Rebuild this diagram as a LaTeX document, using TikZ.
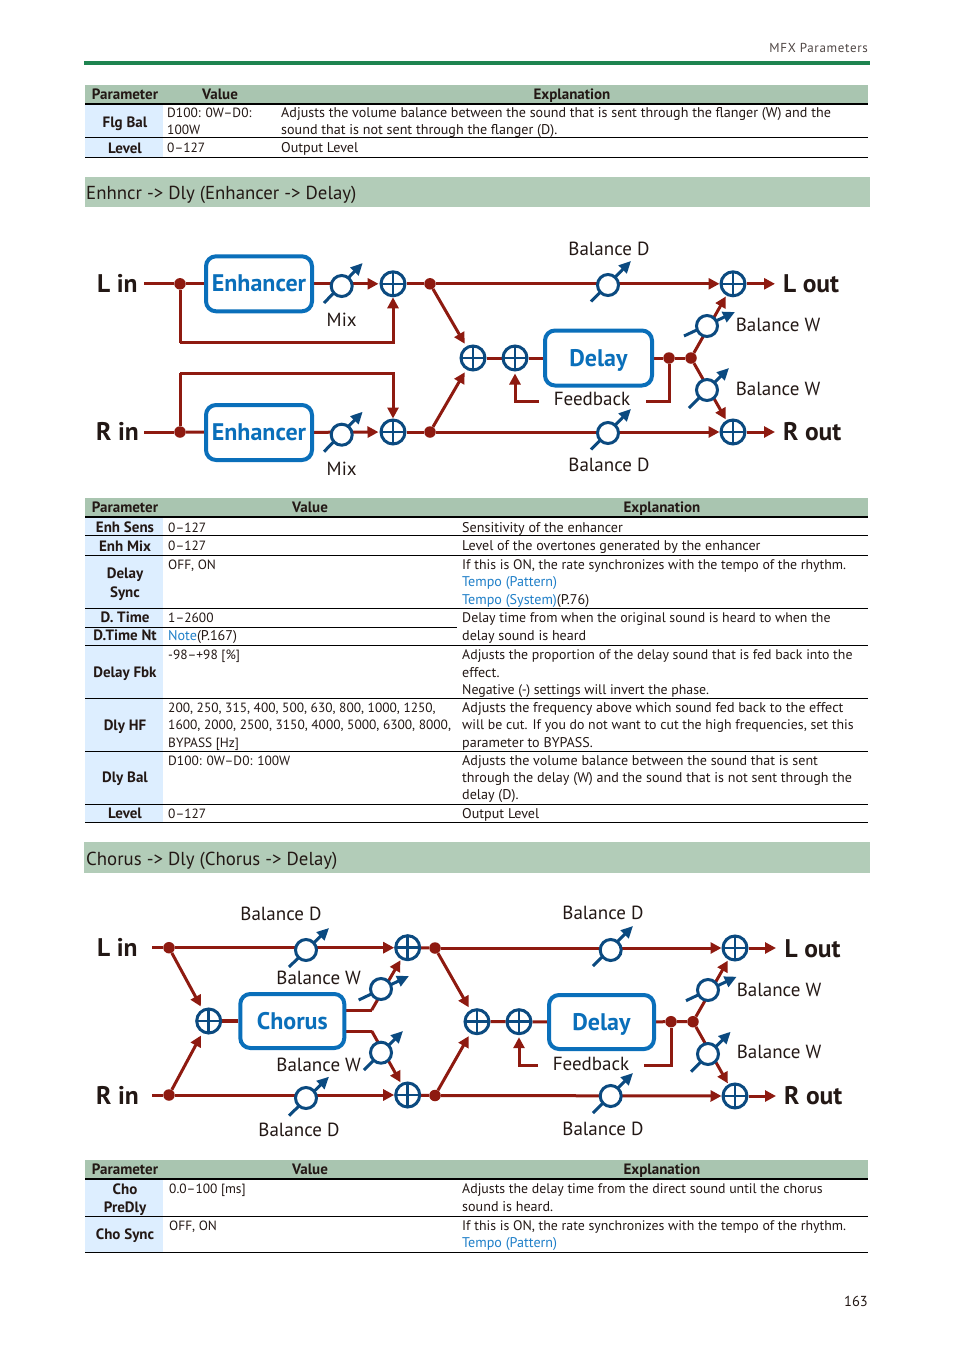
\documentclass[tikz,border=0pt]{standalone}
\usepackage{fontspec}
\setmainfont{PT Sans}
\usetikzlibrary{arrows.meta,backgrounds,calc}
\definecolor{ink}{HTML}{231815}
\definecolor{sigred}{HTML}{8E1A10}
\definecolor{knob}{HTML}{0B4A80}
\definecolor{boxblue}{HTML}{0A6FBA}
\definecolor{linkblue}{HTML}{1F7FC8}
\definecolor{hdr}{HTML}{A9C5B0}
\definecolor{band}{HTML}{B2CCB8}
\definecolor{rule}{HTML}{1E8450}
\definecolor{param}{HTML}{DDEEFF}
\newcounter{tn}
\tikzset{
  body/.style={font=\fontsize{14.1}{15}\selectfont,text=ink,inner sep=0pt},
  tleft/.style={body,anchor=base west},
  nums/.style={font=\fontsize{13.4}{15}\selectfont},
  snug/.style={font=\fontsize{13.85}{15}\selectfont},
  tmid/.style={body,anchor=base,font=\fontsize{15}{15}\selectfont\bfseries},
  tline/.style={line width=.8pt,black},
  thead/.style={line width=1.6pt,black},
  lab/.style={font=\fontsize{19}{20}\selectfont,text=ink,inner sep=0pt,anchor=base},
  io/.style={font=\fontsize{25.5}{28}\selectfont\bfseries,text=ink,inner sep=0pt,anchor=base west},
  fx/.style={draw=boxblue,line width=4pt,rounded corners=10pt,fill=white,text=boxblue,inner sep=0pt,
     font=\fontsize{24}{26}\selectfont\bfseries,text height=17pt,text depth=1pt},
  plusn/.style={circle,draw=knob,line width=3pt,fill=white,minimum size=24pt,inner sep=0pt,
     path picture={\draw[knob,line width=2.6pt]
       (path picture bounding box.north)--(path picture bounding box.south)
       (path picture bounding box.west)--(path picture bounding box.east);}},
  knobn/.style={circle,draw=knob,line width=3pt,fill=white,minimum size=21pt,inner sep=0pt},
  dotn/.style={circle,fill=sigred,minimum size=11.5pt,inner sep=0pt},
  sig/.style={draw=sigred,line width=3pt},
  sigar/.style={sig,-{Triangle[length=11pt,width=11pt]}},
  knobar/.style={draw=knob,line width=3pt,-{Triangle[length=12pt,width=11pt]}},
}
\newcommand{\TL}[4][]{\stepcounter{tn}\node[tleft,#1] (t\thetn) at (#2,#3) {#4};}
\newcommand{\TM}[3]{\stepcounter{tn}\node[tmid] (t\thetn) at (#1,#2+0.7) {#3};}
\newcommand{\LB}[3]{\stepcounter{tn}\node[lab] (t\thetn) at (#1,#2) {#3};}
\newcommand{\IO}[3]{\stepcounter{tn}\node[io] (t\thetn) at (#1,#2) {#3};}
% name, x,y, tail offset, head offset
\newcommand{\KN}[7]{\node[knobn] (#1) at (#2,#3) {};
  \coordinate (#1a) at (#2+#4,#3+#5); \coordinate (#1b) at (#2+#6,#3+#7);}
\newcommand{\FX}[6]{\node[fx,minimum width=#5pt,minimum height=#6pt] (#1) at (#3,#4) {#2};}
\begin{document}
\begin{tikzpicture}[x=1pt,y=-1pt]
\useasboundingbox (0,0) rectangle (954,1350);
\begin{scope}[on background layer]
\fill[white] (0,0) rectangle (954,1350);
\end{scope}
% page furniture
\stepcounter{tn}\node[anchor=base east,inner sep=0pt,text=ink!80,font=\fontsize{13}{14}\selectfont\addfontfeatures{LetterSpace=5}] (t\thetn) at (868,52.5) {MFX Parameters};
\fill[rule] (84,61) rectangle (870,65);
% table 1
\fill[hdr] (85,85) rectangle (868,103);
\fill[param] (85,104) rectangle (163,157);
\draw[thead] (85,103.8) -- (868,103.8);
\draw[tline] (85,137.8) -- (868,137.8);
\draw[tline] (85,157.5) -- (868,157.5);
\TM{125}{99}{Parameter}\TM{220}{99}{Value}\TM{572}{99}{Explanation}
\TM{125}{126.7}{Flg Bal}\TM{125}{152.7}{Level}
\TL[nums]{167}{117}{D100: 0W–D0:}\TL[nums]{167}{134}{100W}\TL[nums]{167}{152.7}{0–127}
\TL{281}{117}{Adjusts the volume balance between the sound that is sent through the flanger (W) and the}
\TL{281}{134}{sound that is not sent through the flanger (D).}
\TL{281}{152.7}{Output Level}
% band 1
\fill[band] (85,177) rectangle (870,207);
\stepcounter{tn}\node[anchor=base west,inner sep=0pt,text=ink,font=\fontsize{18.8}{20}\selectfont] (t\thetn) at (86,199.5) {Enhncr -> Dly (Enhancer -> Delay)};
% table 2
\fill[hdr] (85,498) rectangle (868,516);
\fill[param] (85,517) rectangle (163,822);
\draw[thead] (85,516.7) -- (868,516.7);
\foreach \yy in {535.7,555.3,608,645.3,698.5,751.5,804.5,822.5} \draw[tline] (85,\yy) -- (868,\yy);
\draw[tline] (85,627.3) -- (457,627.3);
\TM{125}{512}{Parameter}\TM{310}{512}{Value}\TM{662}{512}{Explanation}
\TM{125}{531.7}{Enh Sens}\TM{125}{551}{Enh Mix}\TM{125}{578}{Delay}\TM{125}{596.7}{Sync}
\TM{125}{622}{D. Time}\TM{125}{640}{D.Time Nt}\TM{125}{677}{Delay Fbk}\TM{125}{730}{Dly HF}\TM{125}{782}{Dly Bal}\TM{125}{818}{Level}
\TL[nums]{168}{532}{0–127}\TL[nums]{168}{550.5}{0–127}\TL[nums]{168}{569}{OFF, ON}\TL[nums]{168}{622}{1–2600}
\TL{168}{640}{\textcolor{linkblue}{Note}(P.167)}
\TL[nums]{168}{659}{-98–+98 [\%]}
\TL[nums]{168}{712}{200, 250, 315, 400, 500, 630, 800, 1000, 1250,}
\TL[nums]{168}{729}{1600, 2000, 2500, 3150, 4000, 5000, 6300, 8000,}
\TL[nums]{168}{747}{BYPASS [Hz]}
\TL[nums]{168}{765}{D100: 0W–D0: 100W}
\TL[nums]{168}{818}{0–127}
\TL{462}{532}{Sensitivity of the enhancer}
\TL{462}{550.5}{Level of the overtones generated by the enhancer}
\TL[snug]{462}{569}{If this is ON, the rate synchronizes with the tempo of the rhythm.}
\TL{462}{586}{\textcolor{linkblue}{Tempo (Pattern)}}
\TL{462}{604}{\textcolor{linkblue}{Tempo (System)}(P.76)}
\TL[snug]{462}{622}{Delay time from when the original sound is heard to when the}
\TL{462}{640}{delay sound is heard}
\TL[snug]{462}{659}{Adjusts the proportion of the delay sound that is fed back into the}
\TL{462}{677}{effect.}
\TL[snug]{462}{694}{Negative (-) settings will invert the phase.}
\TL{462}{712}{Adjusts the frequency above which sound fed back to the effect}
\TL[snug]{462}{729}{will be cut. If you do not want to cut the high frequencies, set this}
\TL{462}{747}{parameter to BYPASS.}
\TL{462}{765}{Adjusts the volume balance between the sound that is sent}
\TL{462}{782}{through the delay (W) and the sound that is not sent through the}
\TL{462}{799}{delay (D).}
\TL{462}{818}{Output Level}
% band 2
\fill[band] (84,842) rectangle (870,873);
\stepcounter{tn}\node[anchor=base west,inner sep=0pt,text=ink,font=\fontsize{18.8}{20}\selectfont] (t\thetn) at (86,865) {Chorus -> Dly (Chorus -> Delay)};
% table 3
\fill[hdr] (85,1160) rectangle (868,1178);
\fill[param] (85,1180) rectangle (163,1252);
\draw[thead] (85,1179) -- (868,1179);
\draw[tline] (85,1216.5) -- (868,1216.5);
\draw[tline] (85,1252) -- (868,1252);
\TM{125}{1174}{Parameter}\TM{310}{1174}{Value}\TM{662}{1174}{Explanation}
\TM{125}{1194}{Cho}\TM{125}{1212}{PreDly}\TM{125}{1239}{Cho Sync}
\TL[nums]{169}{1193}{0.0–100 [ms]}\TL[nums]{169}{1230}{OFF, ON}
\TL[snug]{462}{1193}{Adjusts the delay time from the direct sound until the chorus}
\TL{462}{1211}{sound is heard.}
\TL[snug]{462}{1230}{If this is ON, the rate synchronizes with the tempo of the rhythm.}
\TL{462}{1247}{\textcolor{linkblue}{Tempo (Pattern)}}
\stepcounter{tn}\node[anchor=base east,inner sep=0pt,text=ink,font=\fontsize{14.5}{15}\selectfont] (t\thetn) at (868,1306) {163};

% ---------- diagram 1 ----------
\IO{97}{292.7}{L in}\IO{96}{440.7}{R in}\IO{783}{292.7}{L out}\IO{783}{440.7}{R out}
\LB{609}{255}{Balance D}\LB{341.7}{326.7}{Mix}\LB{341.7}{475.7}{Mix}
\LB{778}{331.7}{Balance W}\LB{778}{395}{Balance W}\LB{609}{471.7}{Balance D}\LB{592}{405.7}{Feedback}
\coordinate (aLs) at (144,283.8); \coordinate (aRs) at (144,432);
\coordinate (aLe) at (775,283.8); \coordinate (aRe) at (775,432);
\node[dotn] (aD1) at (180,283.8) {}; \node[dotn] (aD2) at (180,432) {};
\node[dotn] (aD3) at (430,283.8) {}; \node[dotn] (aD4) at (430,432) {};
\node[dotn] (aD5) at (669,358) {}; \node[dotn] (aD6) at (691,358) {};
\FX{aE1}{Enhancer}{259}{283.8}{106}{55}
\FX{aE2}{Enhancer}{259}{432.5}{106}{55}
\FX{aDl}{Delay}{598.5}{358}{107}{55}
\node[plusn] (aP1) at (393,283.8) {}; \node[plusn] (aP2) at (393,432) {};
\node[plusn] (aP3) at (473,358) {}; \node[plusn] (aP4) at (515,358) {};
\node[plusn] (aP5) at (733,283.8) {}; \node[plusn] (aP6) at (733,432) {};
\KN{aK1}{341.7}{286}{-17.7}{17}{21}{-23}
\KN{aK2}{341.7}{434.7}{-17.7}{17}{21}{-23}
\KN{aK3}{608}{285}{-17}{16.5}{23}{-24}
\KN{aK4}{608}{433}{-17}{16.5}{23}{-24}
\KN{aK5}{707}{326}{-23}{10}{28}{-14}
\KN{aK6}{707}{390}{-18}{18}{22}{-22}
\coordinate (aB1) at (180,342.7); \coordinate (aB2) at (180,373.3);
\coordinate (aF1) at (645.7,401); \coordinate (aF2) at (539,401);
\begin{scope}[on background layer]
\draw[sig] (aLs) -- (aD1); \draw[sig] (aRs) -- (aD2);
\draw[sig] (aD1) -- (aE1); \draw[sig] (aD2) -- (aE2);
\draw[sigar,shorten >=1pt] (aE1) -- (aP1); \draw[sigar,shorten >=1pt] (aE2) -- (aP2);
\draw[sig] (aD1) -- (aB1);
\draw[sigar] (aB1) -| (aP1);
\draw[sig] (aD2) -- (aB2);
\draw[sigar] (aB2) -| (aP2);
\draw[sig] (aP1) -- (aD3); \draw[sig] (aP2) -- (aD4);
\draw[sigar,shorten >=3pt] (aD3) -- (aP3); \draw[sigar,shorten >=3pt] (aD4) -- (aP3);
\draw[sig] (aP3) -- (aP4) -- (aDl); \draw[sig] (aDl) -- (aD5) -- (aD6);
\draw[sig] (aD5) |- (aF1);
\draw[sigar,shorten >=2pt] (aF2) -| (aP4);
\draw[sigar] (aD3) -- (aP5); \draw[sigar] (aD4) -- (aP6);
\draw[sigar,shorten >=1pt] (aD6) -- (aP5); \draw[sigar,shorten >=1pt] (aD6) -- (aP6);
\draw[sigar] (aP5) -- (aLe); \draw[sigar] (aP6) -- (aRe);
\foreach \k in {aK1,aK2,aK3,aK4,aK5,aK6} \draw[knobar] (\k a) -- (\k b);
\end{scope}

% ---------- diagram 2 ----------
\IO{97}{956}{L in}\IO{96}{1104}{R in}\IO{784.5}{957}{L out}\IO{784}{1104.3}{R out}
\LB{281}{920}{Balance D}\LB{318.7}{984}{Balance W}\LB{318.7}{1071.7}{Balance W}\LB{299}{1136.7}{Balance D}
\LB{603}{919.3}{Balance D}\LB{779}{996.7}{Balance W}\LB{779}{1058}{Balance W}\LB{603}{1135.7}{Balance D}\LB{591}{1070}{Feedback}
\coordinate (bLs) at (152.3,947.7); \coordinate (bRs) at (152.3,1095);
\coordinate (bLe) at (776,948); \coordinate (bRe) at (776,1096);
\node[dotn] (bD1) at (169,947.7) {}; \node[dotn] (bD2) at (169,1095) {};
\node[dotn] (bD3) at (435,948) {}; \node[dotn] (bD4) at (435,1095.5) {};
\node[dotn] (bD5) at (671,1021.7) {}; \node[dotn] (bD6) at (693,1021.7) {};
\FX{bCh}{Chorus}{292.3}{1021}{104}{54}
\FX{bDl}{Delay}{601.5}{1022}{105}{54}
\node[plusn] (bP1) at (208.7,1021) {};
\node[plusn] (bP2) at (407.7,947.7) {}; \node[plusn] (bP3) at (407.7,1095) {};
\node[plusn] (bP4) at (477,1021.7) {}; \node[plusn] (bP5) at (519,1021.7) {};
\node[plusn] (bP6) at (735,948) {}; \node[plusn] (bP7) at (735,1096) {};
\KN{bK1}{306}{950}{-17}{17}{23}{-22}
\KN{bK2}{306}{1098}{-17}{17.7}{23}{-21.3}
\KN{bK3}{381}{989}{-22.3}{11}{28}{-13}
\KN{bK4}{381}{1052.7}{-17}{17.3}{22}{-21.7}
\KN{bK5}{610.7}{950}{-17.7}{16}{22.3}{-24}
\KN{bK6}{610.7}{1096}{-17.7}{17}{22.3}{-23}
\KN{bK7}{708}{990}{-22}{10.7}{28.7}{-13.3}
\KN{bK8}{708}{1054}{-17}{17.7}{22.7}{-22.3}
\coordinate (bU1) at (345.7,1010); \coordinate (bU2) at (371.7,1010);
\coordinate (bW1) at (345.7,1031); \coordinate (bW2) at (371.7,1031);
\coordinate (bF1) at (644,1065); \coordinate (bF2) at (538,1065);
\begin{scope}[on background layer]
\draw[sig] (bLs) -- (bD1); \draw[sig] (bRs) -- (bD2);
\draw[sigar,shorten >=3pt] (bD1) -- (bP1); \draw[sigar,shorten >=3pt] (bD2) -- (bP1);
\draw[sig,line width=4pt] (bP1) -- (bCh);
\draw[sigar] (bD1) -- (bP2); \draw[sigar] (bD2) -- (bP3);
\draw[sig] (bU1) -- (bU2); \draw[sigar,shorten >=1pt] (bU2) -- (bP2);
\draw[sig] (bW1) -- (bW2); \draw[sigar,shorten >=1pt] (bW2) -- (bP3);
\draw[sig] (bP2) -- (bD3); \draw[sig] (bP3) -- (bD4);
\draw[sigar,shorten >=3pt] (bD3) -- (bP4); \draw[sigar,shorten >=3pt] (bD4) -- (bP4);
\draw[sig] (bP4) -- (bP5) -- (bDl); \draw[sig] (bDl) -- (bD5) -- (bD6);
\draw[sig] (bD5) |- (bF1);
\draw[sigar,shorten >=2pt] (bF2) -| (bP5);
\draw[sigar] (bD3) -- (bP6); \draw[sigar] (bD4) -- (bP7);
\draw[sigar,shorten >=1pt] (bD6) -- (bP6); \draw[sigar,shorten >=1pt] (bD6) -- (bP7);
\draw[sigar] (bP6) -- (bLe); \draw[sigar] (bP7) -- (bRe);
\foreach \k in {bK1,bK2,bK3,bK4,bK5,bK6,bK7,bK8} \draw[knobar] (\k a) -- (\k b);
\end{scope}
\end{tikzpicture}
\end{document}
